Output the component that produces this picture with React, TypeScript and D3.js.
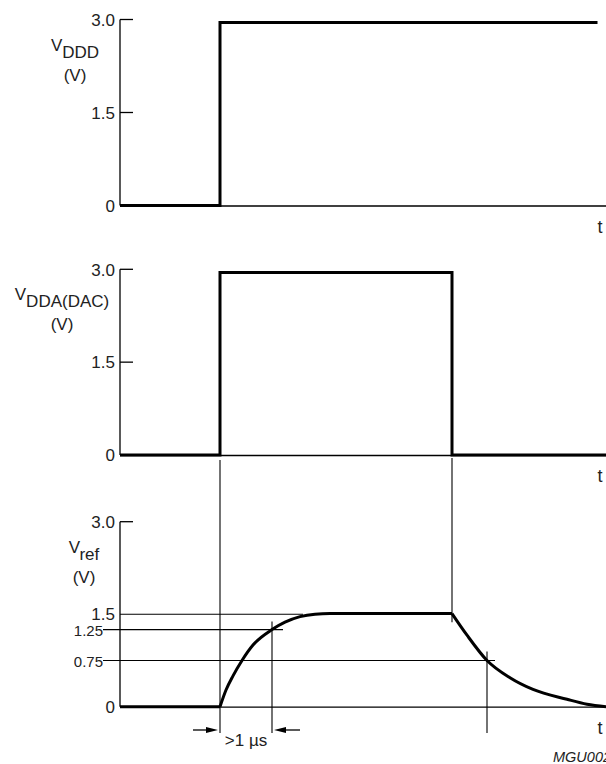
import React from "react";
import * as d3 from "d3";

// ---- data (time in arbitrary units, voltage in V) ----
const yTickValues = [0, 1.5, 3.0];
const refTickValues = [0.75, 1.25];

const vdddTime = [0, 2.0, 2.0, 9.55];
const vdddVolt = [0, 0, 2.95, 2.95];

const vddaTime = [0, 2.0, 2.0, 6.64, 6.64, 9.72];
const vddaVolt = [0, 0, 2.95, 2.95, 0, 0];

const vrefFlatTime = [0, 2.0];
const vrefFlatVolt = [0, 0];
const vrefRiseTime = [2.0, 2.12, 2.26, 2.44, 2.66, 3.04, 3.3, 3.6, 3.9, 4.2, 6.64];
const vrefRiseVolt = [0, 0.27, 0.5, 0.75, 1.0, 1.25, 1.37, 1.46, 1.5, 1.51, 1.51];
const vrefFallTime = [6.64, 6.94, 7.34, 7.8, 8.26, 8.94, 9.34, 9.72];
const vrefFallVolt = [1.51, 1.16, 0.75, 0.47, 0.28, 0.12, 0.04, 0.0];

const panelLabels = ["V", "V", "V"];
const panelSubs = ["DDD", "DDA(DAC)", "ref"];
const unitLabel = "(V)";
const timeLabel = "t";
const durationLabel = ">1 µs";
const figureCode = "MGU002";

// ---- layout ----
const W = 606;
const H = 764;
const x0 = 120;
const tMax = 9.72;
const panels = [
  { top: 19.5, bottom: 205.5, labelX: 75 },
  { top: 269.3, bottom: 455, labelX: 62 },
  { top: 521.7, bottom: 706.7, labelX: 84 },
];
const font = "'Liberation Sans', Arial, Helvetica, sans-serif";
const textColor = "#222";

export default function App() {
  const x = d3.scaleLinear().domain([0, tMax]).range([x0, W]);
  const ys = panels.map((p) => d3.scaleLinear().domain([0, 3]).range([p.bottom, p.top]));

  const mk = (ts: number[], vs: number[], y: d3.ScaleLinear<number, number>, curve: d3.CurveFactory) =>
    d3
      .line<number>()
      .x((_, i) => x(ts[i]))
      .y((v) => y(v))
      .curve(curve)(vs) as string;

  const thick = { fill: "none", stroke: "#000", strokeWidth: 3, strokeLinejoin: "miter" as const };
  const thin = { stroke: "#000", strokeWidth: 1.1 };
  const axisW = 1.3;

  const y3 = ys[2];
  const arrowY = 730;

  return (
    <svg
      width={W}
      height={H}
      viewBox={`0 0 ${W} ${H}`}
      style={{ position: "absolute", left: 0, top: 0, background: "#fff" }}
      fontFamily={font}
    >
      <rect x={0} y={0} width={W} height={H} fill="#fff" />
      {panels.map((p, i) => {
        const y = ys[i];
        return (
          <g key={i}>
            {/* y axis */}
            <line x1={x0} x2={x0} y1={y(3)} y2={y(0)} stroke="#000" strokeWidth={axisW} />
            {/* x axis */}
            <line x1={x0} x2={W} y1={y(0) + 0.5} y2={y(0) + 0.5} stroke="#000" strokeWidth={axisW} />
            {yTickValues.map((v) => (
              <g key={v}>
                {v > 0 && !(i === 2 && v === 1.5) && (
                  <line x1={x0} x2={x0 + 13} y1={y(v)} y2={y(v)} stroke="#000" strokeWidth={axisW} />
                )}
                <text
                  x={x0 - 5}
                  y={y(v)}
                  dy="0.37em"
                  textAnchor="end"
                  fontSize={17}
                  fill={textColor}
                >
                  {v === 0 ? "0" : d3.format(".1f")(v)}
                </text>
              </g>
            ))}
            <text x={p.labelX} y={p.top + 31} textAnchor="middle" fontSize={17} fill={textColor}>
              {panelLabels[i]}
              <tspan dy={7}>{panelSubs[i]}</tspan>
            </text>
            <text x={p.labelX} y={p.top + 61} textAnchor="middle" fontSize={17} fill={textColor}>
              {unitLabel}
            </text>
            <text x={600} y={y(0) + 27} textAnchor="middle" fontSize={18} fill={textColor}>
              {timeLabel}
            </text>
          </g>
        );
      })}

      {/* signals */}
      <path d={mk(vdddTime, vdddVolt, ys[0], d3.curveLinear)} {...thick} />
      <path d={mk(vddaTime, vddaVolt, ys[1], d3.curveLinear)} {...thick} />
      <path d={mk(vrefFlatTime, vrefFlatVolt, y3, d3.curveLinear)} {...thick} />

      {/* reference guide lines */}
      <line x1={x(2.0)} x2={x(2.0)} y1={ys[1](0) + 5} y2={733} {...thin} />
      <line x1={x(6.64)} x2={x(6.64)} y1={ys[1](0) + 3} y2={y3(1.5) + 8} {...thin} />
      <line x1={x(3.04)} x2={x(3.04)} y1={y3(1.25) - 8} y2={733} {...thin} />
      <line x1={x(7.34)} x2={x(7.34)} y1={y3(0.75) - 9} y2={733} {...thin} />
      <line x1={x0} x2={x(3.66)} y1={y3(1.5)} y2={y3(1.5)} {...thin} />
      <line x1={x0 - 17} x2={x(3.26)} y1={y3(1.25)} y2={y3(1.25)} {...thin} />
      <line x1={x0 - 17} x2={x(7.5)} y1={y3(0.75)} y2={y3(0.75)} {...thin} />
      {refTickValues.map((v) => (
        <text
          key={v}
          x={x0 - 17}
          y={y3(v)}
          dy="0.45em"
          textAnchor="end"
          fontSize={15}
          fill={textColor}
        >
          {d3.format(".2f")(v)}
        </text>
      ))}

      <path d={mk(vrefRiseTime, vrefRiseVolt, y3, d3.curveMonotoneX)} {...thick} />
      <path d={mk(vrefFallTime, vrefFallVolt, y3, d3.curveMonotoneX)} {...thick} />

      {/* duration arrows */}
      <line x1={x(2.0) - 27} x2={x(2.0) - 10} y1={arrowY} y2={arrowY} stroke="#000" strokeWidth={1.3} />
      <path
        d={`M${x(2.0) - 2},${arrowY} L${x(2.0) - 14},${arrowY - 3} L${x(2.0) - 14},${arrowY + 3} Z`}
        fill="#000"
      />
      <line x1={x(3.04) + 10} x2={x(3.04) + 28} y1={arrowY} y2={arrowY} stroke="#000" strokeWidth={1.3} />
      <path
        d={`M${x(3.04) + 2},${arrowY} L${x(3.04) + 14},${arrowY - 3} L${x(3.04) + 14},${arrowY + 3} Z`}
        fill="#000"
      />
      <text x={(x(2.0) + x(3.04)) / 2} y={746} textAnchor="middle" fontSize={17} fill={textColor}>
        {durationLabel}
      </text>

      <text x={553} y={761.5} fontSize={14.5} fontStyle="italic" fill={textColor}>
        {figureCode}
      </text>
    </svg>
  );
}
